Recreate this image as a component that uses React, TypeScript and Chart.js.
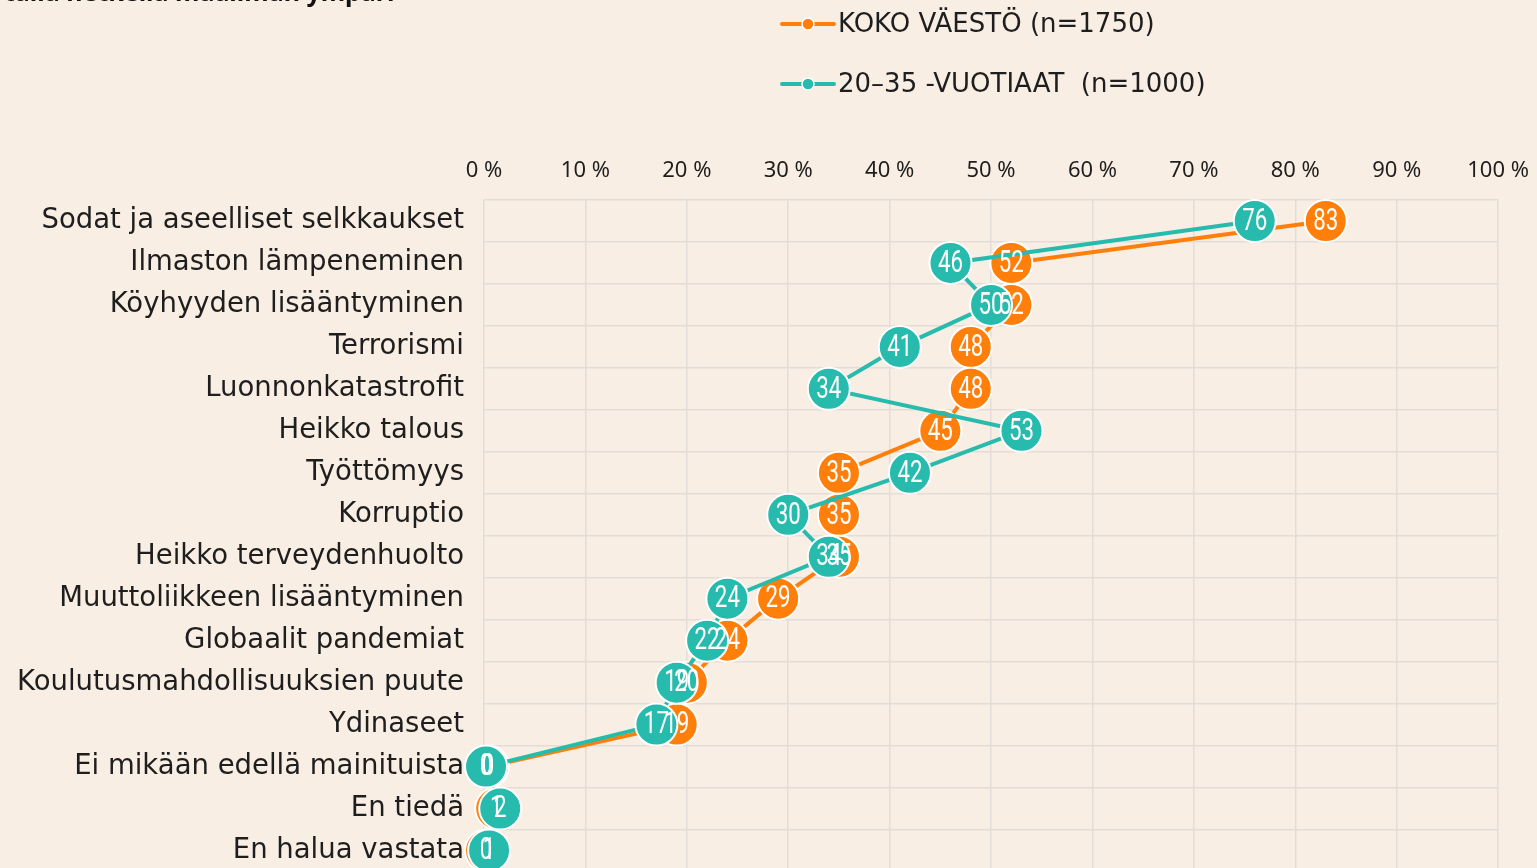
import React, { useEffect, useRef } from "react";
import { Chart, registerables } from "chart.js";

Chart.register(...registerables);

const titleText = "tällä hetkellä maailman ympäri";

const categories = [
  "Sodat ja aseelliset selkkaukset",
  "Ilmaston lämpeneminen",
  "Köyhyyden lisääntyminen",
  "Terrorismi",
  "Luonnonkatastrofit",
  "Heikko talous",
  "Työttömyys",
  "Korruptio",
  "Heikko terveydenhuolto",
  "Muuttoliikkeen lisääntyminen",
  "Globaalit pandemiat",
  "Koulutusmahdollisuuksien puute",
  "Ydinaseet",
  "Ei mikään edellä mainituista",
  "En tiedä",
  "En halua vastata",
];

const kokoVaesto = [83, 52, 52, 48, 48, 45, 35, 35, 35, 29, 24, 20, 19, 0.4, 1.2, 0.2];
const nuoret = [76, 46, 50, 41, 34, 53, 42, 30, 34, 24, 22, 19, 17, 0.2, 1.6, 0.5];

const legendLabels = ["KOKO VÄESTÖ (n=1750)", "20–35 -VUOTIAAT  (n=1000)"];

const ORANGE = "#FF7F0A";
const TEAL = "#27BBAD";
const BG = "#F8EEE4";
const GRID = "#E2DDD8";
const TEXT = "#1E1E1E";
const FONT = "'DejaVu Sans', 'Noto Sans', sans-serif";
const TICK_FONT = "'Noto Sans', 'DejaVu Sans', sans-serif";
const LABEL_FONT = "Roboto, 'Liberation Sans', sans-serif";

export default function App() {
  const canvasRef = useRef<HTMLCanvasElement | null>(null);

  useEffect(() => {
    const canvas = canvasRef.current;
    if (!canvas) return;

    const bgPlugin = {
      id: "bg",
      beforeDraw(chart: any) {
        const ctx = chart.ctx;
        ctx.save();
        ctx.fillStyle = BG;
        ctx.fillRect(0, 0, chart.width, chart.height);
        ctx.restore();
      },
    };

    const labelPlugin = {
      id: "pointLabels",
      afterDatasetsDraw(chart: any) {
        const ctx = chart.ctx;
        const order = [1, 0];
        ctx.save();
        for (const di of order) {
          const meta = chart.getDatasetMeta(di);
          const ds = chart.data.datasets[di];
          meta.data.forEach((pt: any, i: number) => {
            const v = Math.round(ds.data[i] as number);
            ctx.save();
            ctx.translate(pt.x, pt.y + 1);
            ctx.scale(0.72, 1);
            ctx.font = `400 31px ${LABEL_FONT}`;
            ctx.fillStyle = "#FFFFFF";
            ctx.textAlign = "center";
            ctx.textBaseline = "middle";
            ctx.fillText(String(v), 0, 0);
            ctx.restore();
          });
        }
        ctx.restore();
      },
    };

    const legendPlugin = {
      id: "customLegend",
      afterDraw(chart: any) {
        const ctx = chart.ctx;
        const items = [
          { text: legendLabels[0], color: ORANGE, y: 24 },
          { text: legendLabels[1], color: TEAL, y: 84 },
        ];
        ctx.save();
        for (const it of items) {
          ctx.strokeStyle = it.color;
          ctx.lineWidth = 4;
          ctx.lineCap = "round";
          ctx.beginPath();
          ctx.moveTo(782, it.y);
          ctx.lineTo(834, it.y);
          ctx.stroke();
          ctx.beginPath();
          ctx.arc(808, it.y, 6, 0, Math.PI * 2);
          ctx.fillStyle = it.color;
          ctx.fill();
          ctx.lineWidth = 1.5;
          ctx.strokeStyle = "#FFFFFF";
          ctx.stroke();
          ctx.fillStyle = TEXT;
          ctx.font = `400 26px ${FONT}`;
          ctx.textAlign = "left";
          ctx.textBaseline = "middle";
          ctx.fillText(it.text, 838, it.y + 1);
        }
        ctx.font = `700 25px ${TICK_FONT}`;
        ctx.textBaseline = "alphabetic";
        ctx.fillStyle = "#111111";
        ctx.fillText(titleText, 4, 1);
        ctx.restore();
      },
    };

    const chart = new Chart(canvas, {
      type: "line",
      data: {
        labels: categories,
        datasets: [
          {
            label: legendLabels[1],
            data: nuoret,
            borderColor: TEAL,
            backgroundColor: TEAL,
            borderWidth: 4,
            pointRadius: 21,
            pointBackgroundColor: TEAL,
            pointBorderColor: "#FFFFFF",
            pointBorderWidth: 2,
            clip: false as any,
            order: 0,
          },
          {
            label: legendLabels[0],
            data: kokoVaesto,
            borderColor: ORANGE,
            backgroundColor: ORANGE,
            borderWidth: 4,
            pointRadius: 21,
            pointBackgroundColor: ORANGE,
            pointBorderColor: "#FFFFFF",
            pointBorderWidth: 2,
            clip: false as any,
            order: 1,
          },
        ],
      },
      options: {
        indexAxis: "y",
        responsive: false,
        animation: false,
        events: [],
        layout: { padding: { left: 0, right: 31, top: 0, bottom: 0 } },
        plugins: {
          legend: { display: false },
          tooltip: { enabled: false },
        },
        scales: {
          x: {
            type: "linear",
            position: "top",
            min: 0,
            max: 100,
            ticks: {
              stepSize: 10,
              callback: (v: any) => `${v} %`,
              font: { family: TICK_FONT, size: 22 },
              color: TEXT,
              padding: 16,
            },
            grid: { color: GRID, lineWidth: 1.5, drawTicks: false },
            border: { display: false },
            afterFit: (scale: any) => {
              scale.height = 200;
            },
          },
          y: {
            type: "category",
            offset: true,
            ticks: {
              font: { family: FONT, size: 27.5 },
              color: TEXT,
              padding: 20,
              autoSkip: false,
            },
            grid: { color: GRID, lineWidth: 1.5, offset: true, drawTicks: false },
            border: { display: false },
            afterFit: (scale: any) => {
              scale.width = 484;
            },
          },
        },
      },
      plugins: [bgPlugin, labelPlugin, legendPlugin],
    });

    return () => chart.destroy();
  }, []);

  return (
    <div
      style={{
        position: "fixed",
        left: 0,
        top: 0,
        width: 1537,
        height: 868,
        overflow: "hidden",
        background: BG,
      }}
    >
      <canvas ref={canvasRef} width={1545} height={908} style={{ display: "block" }} />
    </div>
  );
}
